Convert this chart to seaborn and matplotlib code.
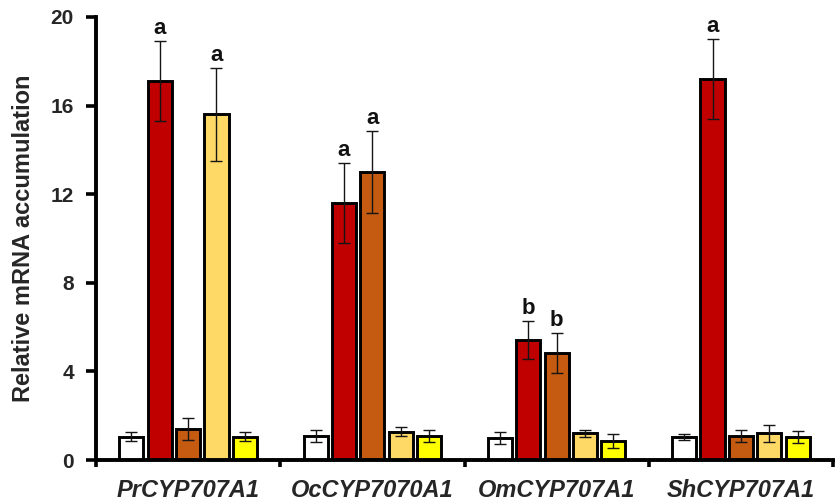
import matplotlib
matplotlib.use("Agg")
import matplotlib.pyplot as plt
import seaborn as sns
import pandas as pd
import numpy as np

# Genes on the x axis
genes = ["PrCYP707A1", "OcCYP7070A1", "OmCYP707A1", "ShCYP707A1"]
# Conditions (one bar per condition inside each gene group)
conditions = ["Condition 1", "Condition 2", "Condition 3", "Condition 4", "Condition 5"]
colors = ["#FFFFFF", "#C00000", "#C55A11", "#FFD966", "#FFFF00"]

# Mean relative expression, one list per condition (in gene order)
cond1_mean = [1.05, 1.08, 1.00, 1.04]
cond2_mean = [17.1, 11.6, 5.43, 17.2]
cond3_mean = [1.40, 13.0, 4.84, 1.08]
cond4_mean = [15.6, 1.27, 1.20, 1.20]
cond5_mean = [1.05, 1.08, 0.86, 1.04]

# Standard errors, same layout
cond1_err = [0.20, 0.28, 0.27, 0.13]
cond2_err = [1.80, 1.80, 0.85, 1.80]
cond3_err = [0.50, 1.85, 0.90, 0.28]
cond4_err = [2.10, 0.20, 0.15, 0.38]
cond5_err = [0.20, 0.28, 0.30, 0.27]

# Significance letters (empty string = none)
cond1_sig = ["", "", "", ""]
cond2_sig = ["a", "a", "b", "a"]
cond3_sig = ["", "a", "b", ""]
cond4_sig = ["a", "", "", ""]
cond5_sig = ["", "", "", ""]

y_ticks = [0, 4, 8, 12, 16, 20]

means = [cond1_mean, cond2_mean, cond3_mean, cond4_mean, cond5_mean]
errs = [cond1_err, cond2_err, cond3_err, cond4_err, cond5_err]
sigs = [cond1_sig, cond2_sig, cond3_sig, cond4_sig, cond5_sig]

rows = []
for cond, m, e, s in zip(conditions, means, errs, sigs):
    for g, mv, ev, sv in zip(genes, m, e, s):
        rows.append({"gene": g, "condition": cond, "value": mv, "err": ev, "sig": sv})
df = pd.DataFrame(rows)

sns.set_theme(style="ticks")
plt.rcParams["font.family"] = ["Liberation Sans", "DejaVu Sans"]

fig = plt.figure(figsize=(8.39, 5.03), dpi=100)
ax = fig.add_axes([96 / 839, 1 - 460 / 503, (833 - 96) / 839, (460 - 17) / 503])

sns.barplot(
    data=df, x="gene", y="value", hue="condition",
    order=genes, hue_order=conditions, palette=colors, saturation=1,
    width=0.77, gap=0.15, errorbar=None,
    edgecolor="black", linewidth=2.1, legend=False, ax=ax,
)

# Error bars and significance letters placed on each bar
bar_containers = list(ax.containers)
for cond_idx, container in enumerate(bar_containers):
    for gene_idx, bar in enumerate(container.patches):
        xc = bar.get_x() + bar.get_width() / 2
        h = bar.get_height()
        e = errs[cond_idx][gene_idx]
        ax.errorbar(xc, h, yerr=e, fmt="none", ecolor="#151515",
                    elinewidth=1.0, capsize=4.5, capthick=1.0, zorder=5)
        letter = sigs[cond_idx][gene_idx]
        if letter:
            ax.annotate(letter, xy=(xc, h + e), xytext=(0, 5),
                        textcoords="offset points", ha="center", va="baseline",
                        fontsize=16, fontweight="bold", color="#111111")

ax.set_xlim(-0.5, len(genes) - 0.5)
ax.set_ylim(0, 20)
ax.set_yticks(y_ticks)
ax.set_yticklabels([str(t) for t in y_ticks], fontsize=15, fontweight="bold")

ax.set_xticks(range(len(genes)))
ax.set_xticklabels(genes, fontsize=17, fontweight="bold", fontstyle="italic")
ax.set_xticks(np.arange(-0.5, len(genes)), minor=True)
ax.tick_params(axis="x", which="major", length=0, pad=14)
ax.tick_params(axis="x", which="minor", length=5, width=2.6, direction="out", color="black")
ax.tick_params(axis="y", which="major", length=7, width=2.6, direction="out", pad=9, color="black")

ax.set_xlabel("")
ax.set_ylabel("Relative mRNA accumulation", fontsize=17, fontweight="bold", labelpad=11)

sns.despine(ax=ax)
for side in ["left", "bottom"]:
    ax.spines[side].set_linewidth(2.8)
    ax.spines[side].set_color("black")

fig.savefig("out.png", dpi=100)
